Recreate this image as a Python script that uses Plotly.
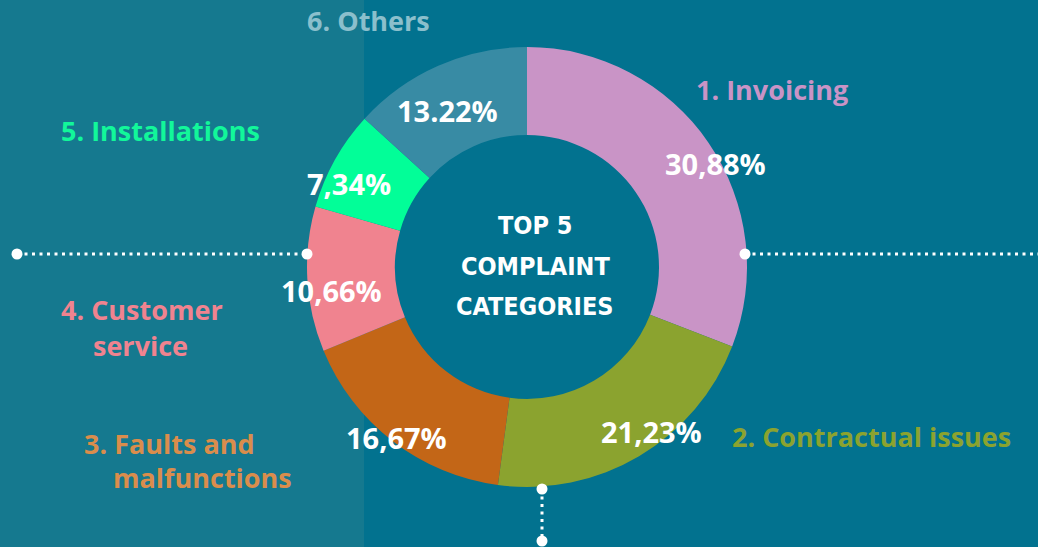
import plotly.graph_objects as go

# ---- data ----
categories = ["1. Invoicing", "2. Contractual issues", "3. Faults and malfunctions",
              "4. Customer service", "5. Installations", "6. Others"]
values = [30.88, 21.23, 16.67, 10.66, 7.34, 13.22]
value_labels = ["30,88%", "21,23%", "16,67%", "10,66%", "7,34%", "13.22%"]
slice_colors = ["#C994C6", "#8BA32F", "#C36617", "#F0838F", "#02FE98", "#388BA4"]
label_colors = ["#C994C6", "#8BA32F", "#DA8D4C", "#F0838F", "#12F79A", "#8BBFCC"]
center_title_lines = ["TOP 5", "COMPLAINT", "CATEGORIES"]

W, H = 1038, 547
BG_RIGHT = "#02728F"
BG_LEFT = "#15798F"

def px(x):
    return x / W

def py(y):
    return 1 - y / H

cx, cy, R = 527, 267, 220

fig = go.Figure()
fig.add_trace(go.Pie(
    labels=categories, values=values, sort=False, direction="clockwise",
    rotation=0, hole=0.6, textinfo="none", hoverinfo="label+value",
    marker=dict(colors=slice_colors, line=dict(width=0)),
    domain=dict(x=[px(cx - R), px(cx + R)], y=[py(cy + R), py(cy - R)]),
    showlegend=False,
))

shapes = [dict(type="rect", xref="paper", yref="paper", x0=0, x1=px(364), y0=0, y1=1,
               fillcolor=BG_LEFT, line=dict(width=0), layer="below")]
# dotted connector lines
lines = [((17, 254), (307, 254)), ((745, 254), (1040, 254)), ((542, 489), (542, 541))]
for (x0, y0), (x1, y1) in lines:
    shapes.append(dict(type="line", xref="paper", yref="paper", x0=px(x0), y0=py(y0),
                       x1=px(x1), y1=py(y1), line=dict(color="white", width=3, dash="3px,4.5px")))
for (x, y) in [(17, 254), (307, 254), (745, 254), (542, 489), (542, 541)]:
    r = 5.5
    shapes.append(dict(type="circle", xref="paper", yref="paper", x0=px(x - r), x1=px(x + r),
                       y0=py(y + r), y1=py(y - r), fillcolor="white", line=dict(width=0)))

annotations = []
FONT = "Open Sans"
# percentage labels
pct_pos = [(715, 163), (651, 431), (396, 437), (331, 290), (349, 184), (447, 110)]
for lab, (x, y) in zip(value_labels, pct_pos):
    annotations.append(dict(x=px(x), y=py(y), xref="paper", yref="paper", text=lab,
                            showarrow=False, xanchor="center", yanchor="middle",
                            font=dict(family=FONT, size=29, color="white", weight="bold")))

# category labels (line split)
cat_lines = [
    [("1. Invoicing", 694, 90)],
    [("2. Contractual issues", 730, 436)],
    [("3. Faults and", 82, 443), ("malfunctions", 111, 478)],
    [("4. Customer", 59, 309), ("service", 91, 345)],
    [("5. Installations", 59, 130)],
    [("6. Others", 305, 20)],
]
for col, parts in zip(label_colors, cat_lines):
    for txt, x, y in parts:
        annotations.append(dict(x=px(x), y=py(y), xref="paper", yref="paper", text=txt,
                                showarrow=False, xanchor="left", yanchor="middle",
                                font=dict(family=FONT, size=27, color=col, weight="bold")))

for txt, y in zip(center_title_lines, [226, 266, 306]):
    annotations.append(dict(x=px(cx + 8), y=py(y), xref="paper", yref="paper", text=txt,
                            showarrow=False, xanchor="center", yanchor="middle",
                            font=dict(family="DejaVu Sans Condensed", size=25,
                                      color="white", weight="bold")))

fig.update_layout(width=W, height=H, margin=dict(l=0, r=0, t=0, b=0),
                  paper_bgcolor=BG_RIGHT, plot_bgcolor=BG_RIGHT,
                  shapes=shapes, annotations=annotations)
fig.write_html("out.html", config={"displayModeBar": False},
               post_script="document.body.style.margin='0';")
